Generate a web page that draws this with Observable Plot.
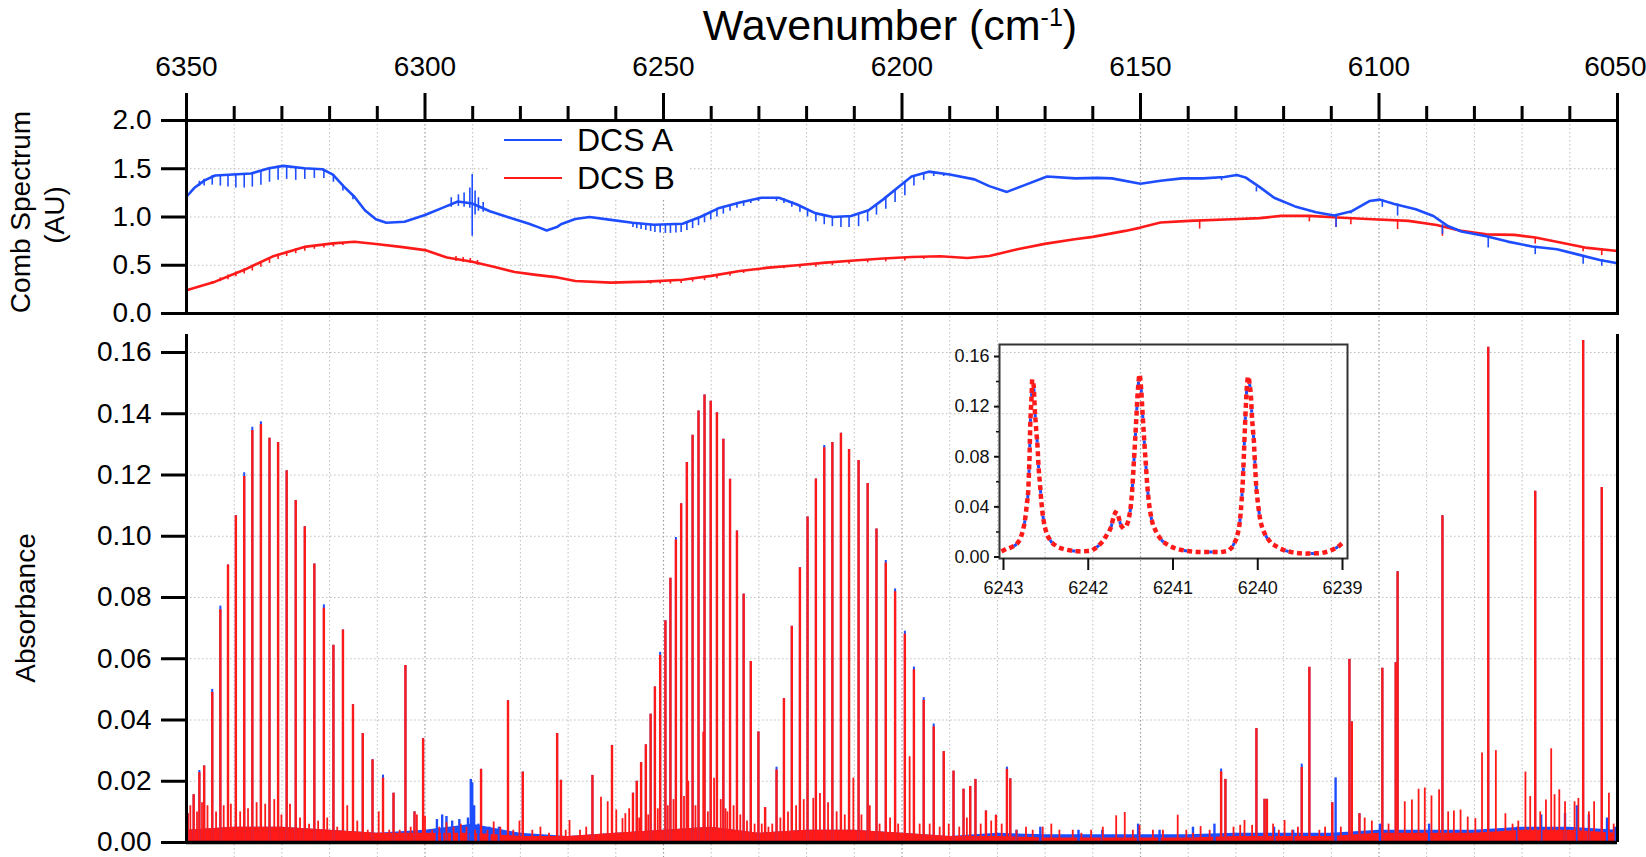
<!DOCTYPE html>
<html><head><meta charset="utf-8"><title>DCS spectra</title>
<script src="https://cdn.jsdelivr.net/npm/d3@7"></script>
<script src="https://cdn.jsdelivr.net/npm/@observablehq/plot@0.6"></script>
<style>
html,body{margin:0;padding:0;background:#fff;}
#wrap{position:relative;width:1646px;height:857px;overflow:hidden;font-family:"Liberation Sans",Arial,Helvetica,sans-serif;color:#000;}
#wrap svg{position:absolute;}
.t{position:absolute;white-space:nowrap;line-height:1;}
</style></head><body><div id="wrap"></div><script>
// ---------- ticks / labels ----------
const majorTicks = [6350,6300,6250,6200,6150,6100,6050];
const minorTicks = [6340,6330,6320,6310,6290,6280,6270,6260,6240,6230,6220,6210,6190,6180,6170,6160,6140,6130,6120,6110,6090,6080,6070,6060];
const combTicks = [0,0.5,1.0,1.5,2.0];
const absTicks = [0,0.02,0.04,0.06,0.08,0.10,0.12,0.14,0.16];
const insetXTicks = [6243,6242,6241,6240,6239];
const insetYTicks = [0,0.04,0.08,0.12,0.16];
const insetYMinor = [0.02,0.06,0.10,0.14];
const seriesNames = ["DCS A","DCS B"];

// ---------- comb spectra [wavenumber, AU] ----------
const combA = [[6350,1.21],[6348.4,1.30],[6346.2,1.38],[6344,1.43],[6340.2,1.44],[6336.5,1.45],[6332.7,1.505],[6329.7,1.53],[6325.3,1.505],[6321.5,1.495],[6319.3,1.44],[6317,1.315],[6314.8,1.21],[6312.6,1.07],[6310.3,0.976],[6308.1,0.94],[6304.3,0.95],[6300,1.02],[6296.1,1.10],[6293.1,1.16],[6290.1,1.14],[6286.4,1.06],[6282.7,1.00],[6278.2,0.93],[6276,0.89],[6274.5,0.86],[6272.2,0.90],[6271.5,0.925],[6268.5,0.98],[6265.5,1.00],[6261,0.97],[6256.5,0.94],[6252,0.92],[6246,0.93],[6242.3,1.00],[6238.5,1.09],[6234,1.15],[6229.5,1.20],[6225.8,1.20],[6222,1.13],[6218.2,1.04],[6214.5,1.00],[6210.7,1.01],[6207,1.07],[6204,1.18],[6201,1.30],[6198,1.42],[6194.4,1.47],[6190,1.44],[6184.8,1.39],[6181.7,1.32],[6178,1.26],[6174.3,1.33],[6169.6,1.42],[6163.6,1.40],[6159,1.405],[6156,1.40],[6150,1.345],[6145.8,1.375],[6141.3,1.40],[6136.9,1.40],[6132.4,1.415],[6129.8,1.435],[6128,1.41],[6125,1.31],[6122,1.20],[6117.6,1.11],[6113.2,1.05],[6109.4,1.015],[6105.7,1.06],[6102,1.165],[6099.8,1.18],[6096.8,1.135],[6092.3,1.08],[6088.6,1.01],[6085.7,0.91],[6082.7,0.85],[6077.5,0.80],[6073,0.745],[6067.9,0.695],[6062.7,0.665],[6058.2,0.61],[6053.7,0.555],[6050,0.52]];
const combB = [[6350,0.242],[6344,0.33],[6338,0.45],[6332,0.59],[6325.3,0.69],[6319.3,0.727],[6314.8,0.744],[6310.3,0.72],[6305.1,0.69],[6300,0.657],[6295.4,0.58],[6290.1,0.536],[6285.6,0.484],[6281.2,0.43],[6276.7,0.40],[6272.2,0.374],[6268.5,0.336],[6261,0.32],[6253.5,0.33],[6246,0.35],[6240,0.39],[6234,0.44],[6228,0.475],[6222,0.50],[6216,0.527],[6210,0.55],[6204,0.57],[6198,0.586],[6192,0.593],[6186.3,0.575],[6181.7,0.596],[6175.8,0.665],[6169.8,0.724],[6163.8,0.77],[6160,0.794],[6153.2,0.856],[6150,0.89],[6145.8,0.943],[6139.8,0.96],[6130.9,0.977],[6125,0.988],[6120.5,1.012],[6114.6,1.012],[6108.7,0.995],[6101.3,0.977],[6093.8,0.96],[6087.9,0.918],[6082.7,0.856],[6077.5,0.82],[6071.6,0.815],[6067.2,0.787],[6062,0.735],[6056.8,0.683],[6050,0.648]];
// comb absorption dips [wavenumber, top, bottom]
const dipsA = [[6347.3,1.37,1.32],[6346.3,1.39,1.32],[6344.6,1.43,1.33],[6342.9,1.435,1.32],[6341.3,1.44,1.31],[6339.65,1.44,1.30],[6337.9,1.445,1.30],[6336.2,1.45,1.31],[6334.4,1.47,1.33],[6332.6,1.50,1.36],[6330.8,1.525,1.38],[6329.0,1.53,1.39],[6327.1,1.51,1.38],[6325.2,1.505,1.39],[6323.2,1.50,1.40],[6321.2,1.495,1.40],[6319.2,1.44,1.36],[6317.2,1.33,1.27],[6315.1,1.22,1.18],
[6256.4,0.94,0.89],[6255.6,0.935,0.88],[6254.7,0.93,0.87],[6253.7,0.925,0.86],[6252.7,0.92,0.85],[6251.8,0.92,0.84],[6250.7,0.915,0.835],[6249.6,0.915,0.83],[6248.55,0.92,0.83],[6247.4,0.925,0.835],[6246.3,0.93,0.84],[6245.1,0.95,0.86],[6243.9,0.97,0.88],[6242.66,1.00,0.91],[6241.4,1.03,0.94],[6240.1,1.06,0.97],[6238.8,1.09,1.00],[6237.45,1.11,1.03],[6236.05,1.13,1.06],[6234.6,1.15,1.09],[6233.2,1.165,1.11],[6231.7,1.18,1.14],[6230.1,1.19,1.16],
[6226.3,1.20,1.16],[6224.75,1.19,1.14],[6223.1,1.16,1.10],[6221.4,1.12,1.05],[6219.8,1.08,1.00],[6218.05,1.04,0.95],[6216.3,1.02,0.92],[6214.6,1.00,0.90],[6212.8,1.00,0.89],[6211.1,1.005,0.89],[6209.1,1.02,0.90],[6207.2,1.07,0.95],[6205.35,1.13,1.02],[6203.4,1.20,1.08],[6201.45,1.28,1.15],[6199.4,1.36,1.22],[6197.5,1.43,1.32],[6195.45,1.46,1.38],[6193.35,1.47,1.42],[6191.25,1.45,1.42],
[6133.0,1.415,1.375],[6125.7,1.31,1.26],[6109.0,1.015,0.89],[6105.9,1.06,1.03],[6099.3,1.18,1.10],[6096.1,1.135,1.01],[6086.7,0.92,0.82],[6077.1,0.80,0.68],[6067.25,0.695,0.61],[6057.2,0.60,0.51],[6053.3,0.56,0.49]];
const noiseA = [[6294.5,1.10,1.20],[6293,1.11,1.23],[6291.8,1.10,1.25],[6290.6,1.09,1.30],[6290.1,0.80,1.44],[6289.5,1.02,1.27],[6288.8,1.06,1.20],[6287.8,1.05,1.15]];
const dipsB = [[6344.6,0.33,0.30],[6342.9,0.37,0.33],[6341.3,0.40,0.35],[6339.65,0.43,0.38],[6337.9,0.465,0.41],[6336.2,0.50,0.44],[6334.4,0.54,0.48],[6332.6,0.58,0.52],[6330.8,0.615,0.56],[6329.0,0.645,0.59],[6327.1,0.67,0.62],[6325.2,0.69,0.645],[6323.2,0.705,0.665],[6321.2,0.715,0.68],[6319.2,0.725,0.69],[6317.2,0.735,0.705],
[6254.7,0.33,0.31],[6252.7,0.33,0.305],[6250.7,0.335,0.305],[6248.55,0.34,0.305],[6246.3,0.35,0.31],[6243.9,0.365,0.325],[6241.4,0.38,0.34],[6238.8,0.40,0.36],[6236.05,0.42,0.385],[6233.2,0.445,0.415],[6230.1,0.46,0.44],
[6224.75,0.49,0.465],[6221.4,0.50,0.47],[6218.05,0.515,0.48],[6214.6,0.53,0.495],[6211.1,0.545,0.51],[6207.2,0.56,0.525],[6203.4,0.57,0.535],[6199.4,0.58,0.545],[6195.45,0.59,0.56],
[6137.6,0.965,0.875],[6114.6,1.012,0.95],[6109.0,0.995,0.89],[6105.9,0.99,0.92],[6096.1,0.965,0.87],[6086.7,0.91,0.80],[6067.25,0.787,0.72],[6057.2,0.69,0.64],[6053.3,0.665,0.60]];
const noiseB = [[6293.5,0.54,0.59],[6292,0.53,0.58],[6290.5,0.52,0.57],[6289,0.50,0.55]];

// ---------- absorbance lines [wavenumber, DCS B peak, DCS A peak] ----------
const absLines = [
[6349.75,0.0094,0.0094],[6348.5,0.0156,0.0156],[6347.3,0.0228,0.0235],[6346.3,0.025,0.025],[6344.6,0.049,0.050],[6342.9,0.076,0.0772],[6341.3,0.0906,0.0906],[6339.65,0.1067,0.1067],[6337.9,0.1195,0.1207],[6336.2,0.1345,0.1356],[6334.4,0.1365,0.1374],[6332.6,0.132,0.132],[6330.8,0.1306,0.1306],[6329.0,0.1214,0.1214],[6327.1,0.1117,0.1117],[6325.2,0.1031,0.1031],[6323.2,0.0909,0.0909],[6321.2,0.0765,0.0776],[6319.2,0.0644,0.0644],[6317.2,0.0694,0.0694],[6315.1,0.045,0.045],[6313.05,0.0356,0.0356],[6311.0,0.027,0.027],[6308.8,0.021,0.022],[6306.6,0.0161,0.0161],[6304.1,0.0578,0.0578],[6302.2,0.010,0.010],[6300.4,0.0339,0.0339],
[6288.25,0.0239,0.0239],[6282.6,0.0463,0.0463],[6279.5,0.023,0.023],[6272.3,0.0356,0.0356],[6271.5,0.0203,0.0203],[6264.9,0.0219,0.0219],[6260.8,0.0317,0.0317],
[6256.4,0.0161,0.0161],[6255.6,0.020,0.020],[6254.7,0.0261,0.0261],[6253.7,0.0319,0.0319],[6252.7,0.0419,0.0419],[6251.8,0.0508,0.0508],[6250.7,0.0611,0.0621],[6249.6,0.0724,0.0724],[6248.55,0.0863,0.0863],[6247.4,0.0988,0.0996],[6246.3,0.1106,0.1106],[6245.1,0.1241,0.1241],[6243.9,0.133,0.133],[6242.66,0.1409,0.1409],[6241.4,0.1461,0.1461],[6240.1,0.1441,0.1441],[6238.8,0.1403,0.1403],[6237.45,0.1317,0.1317],[6236.05,0.1186,0.1186],[6234.6,0.1017,0.1017],[6233.2,0.0811,0.0811],[6231.7,0.0591,0.0591],[6230.1,0.0361,0.0361],[6228.7,0.0114,0.0114],
[6226.3,0.0237,0.0246],[6224.75,0.047,0.047],[6223.1,0.0706,0.0706],[6221.4,0.0897,0.0897],[6219.8,0.1063,0.1063],[6218.05,0.1187,0.1187],[6216.3,0.1289,0.1296],[6214.6,0.1306,0.1306],[6212.8,0.1336,0.1336],[6211.1,0.1283,0.1283],[6209.1,0.1247,0.1247],[6207.2,0.1172,0.1172],[6205.35,0.1024,0.1024],[6203.4,0.0913,0.0921],[6201.45,0.0819,0.0828],[6199.4,0.068,0.069],[6197.5,0.0564,0.0573],[6195.45,0.0464,0.0473],[6193.35,0.0378,0.0387],[6191.25,0.0297,0.0297],[6189.2,0.0233,0.0233],[6187.1,0.0174,0.0174],[6185.7,0.0183,0.0183],[6184.6,0.0206,0.0206],[6182.4,0.0103,0.0103],[6180.3,0.0089,0.0089],[6178.0,0.0239,0.0246],[6177.3,0.0208,0.0208],
[6133.1,0.0231,0.024],[6132.2,0.0206,0.0206],[6125.7,0.0372,0.0372],[6124.0,0.0141,0.0141],[6123.5,0.0141,0.0141],[6116.2,0.0245,0.0256],[6114.6,0.0572,0.0572],[6109.8,0.013,0.013],[6106.2,0.0598,0.0598],[6105.7,0.0394,0.0394],[6104.1,0.0094,0.0094],[6099.3,0.0569,0.0569],[6096.5,0.0587,0.0587],[6096.1,0.0884,0.0884],[6086.7,0.1067,0.1067],[6077.1,0.1617,0.1617],[6067.25,0.1147,0.1147],[6057.2,0.1639,0.1639],[6053.3,0.1159,0.1159]];
// weak lines seen in DCS B [wavenumber, peak]
const weakLines = [[6349.2,0.012],[6347.8,0.010],[6346.75,0.013],[6345.6,0.012],[6343.8,0.010],[6342.2,0.012],[6340.7,0.0125],[6338.75,0.010],[6337.1,0.011],[6335.3,0.013],[6333.5,0.0125],[6331.6,0.014],[6330.1,0.009],[6328.3,0.0125],[6326.2,0.008],[6324.3,0.006],[6322.4,0.007],[6320.5,0.008],[6318.4,0.005],[6316.3,0.012],[6314.2,0.007],[6312.0,0.004],[6309.7,0.010],[6307.5,0.004],[6305.3,0.004],[6303.0,0.005],[6301.7,0.009],[6300.0,0.0086],[6298.5,0.004],[6297,0.005],[6295.5,0.0065],[6294,0.005],[6292.5,0.006],[6291.3,0.005],[6289.5,0.004],
[6286.9,0.004],[6285.6,0.0067],[6284.2,0.005],[6281.5,0.004],[6280.2,0.007],[6277.5,0.004],[6275.8,0.005],[6274.0,0.003],[6270.5,0.004],[6269.7,0.0072],[6267.5,0.004],[6266.2,0.005],[6263.1,0.0148],[6261.7,0.0133],[6259.9,0.0106],[6258.6,0.0078],[6258.0,0.0094],[6257.2,0.011],[6255.1,0.008],[6253.2,0.009],[6251.2,0.011],[6249.1,0.012],[6247.9,0.014],[6245.7,0.015],[6244.8,0.020],[6243.3,0.012],[6241.67,0.036],[6240.7,0.010],[6239.4,0.021],[6238.0,0.014],[6237.0,0.011],[6236.6,0.010],[6235.3,0.012],[6233.9,0.009],[6232.5,0.007],[6230.9,0.006],[6229.4,0.006],[6228.0,0.005],[6227.2,0.006],
[6225.5,0.008],[6223.9,0.010],[6222.2,0.012],[6220.6,0.014],[6218.6,0.0144],[6217.2,0.016],[6215.5,0.013],[6213.7,0.010],[6212.0,0.009],[6210.2,0.021],[6208.5,0.009],[6206.75,0.012],[6204.7,0.006],[6202.5,0.008],[6200.8,0.006],[6198.4,0.028],[6196.3,0.006],[6194.2,0.006],[6192.1,0.005],[6190.2,0.006],[6188.0,0.005],[6186.4,0.008],[6183.5,0.006],[6181.3,0.007],[6179.1,0.006],
[6176.0,0.004],[6174.0,0.005],[6172.6,0.004],[6170.5,0.005],[6168.7,0.006],[6167.0,0.004],[6164.2,0.004],[6162.4,0.003],[6160.35,0.004],[6157.9,0.005],[6155.1,0.0087],[6153.3,0.0098],[6151.6,0.004],[6150.2,0.0056],[6147.4,0.004],[6145.3,0.004],[6142.2,0.0089],[6140.4,0.004],[6139.0,0.003],[6137.4,0.0052],[6135.5,0.004],[6130.5,0.005],[6129.1,0.0056],[6128.2,0.0072],[6126.6,0.0056],[6122.2,0.006],[6121.0,0.004],
[6119.8,0.0072],[6118.2,0.004],[6117.0,0.005],[6112.5,0.004],[6111.3,0.005],[6108.0,0.005],[6103.0,0.008],[6101.5,0.007],[6098.0,0.006],[6094.6,0.0133],[6093.1,0.0139],[6091.7,0.0174],[6090.4,0.0178],[6089.0,0.0152],[6087.4,0.0172],[6085.5,0.010],[6084.3,0.0103],[6082.9,0.0106],[6081.4,0.0083],[6079.8,0.0078],[6078.4,0.0292],[6075.5,0.030],[6073.5,0.0094],[6072.0,0.006],[6070.8,0.007],[6069.3,0.023],[6068.3,0.015],[6066.2,0.010],[6065.0,0.0139],[6063.9,0.0306],[6063.2,0.0156],[6062.2,0.0172],[6061.0,0.0133],[6059.0,0.0133],[6058.2,0.0144],[6056.0,0.010],[6054.9,0.0133],[6051.8,0.0161],[6050.8,0.006]];
// features seen only in DCS A [wavenumber, peak]
const blueOnly = [[6297.5,0.0075],[6296.4,0.009],[6295.5,0.0085],[6294.3,0.007],[6292.8,0.0075],[6291,0.008],[6290.4,0.0206],[6290.1,0.0195],[6289.7,0.012],[6288.8,0.006],[6286.5,0.005],[6284.5,0.005],[6176,0.004],[6171,0.005],[6163,0.004],[6158,0.004],[6150.5,0.006],[6146,0.004],[6139,0.005],[6134.5,0.006],[6122,0.005],[6118,0.004],[6109.1,0.0211],[6099.8,0.006],[6089.5,0.006],[6071,0.005],[6066,0.009],[6061,0.0095],[6058.5,0.012],[6056,0.009],[6052.2,0.008],[6050.5,0.005]];
// noise floor [wavenumber, level]
const floorB = [[6350,0.004],[6340,0.005],[6330,0.005],[6320,0.004],[6310,0.003],[6300,0.003],[6290,0.003],[6280,0.002],[6270,0.002],[6260,0.003],[6250,0.004],[6240,0.005],[6230,0.003],[6220,0.004],[6210,0.004],[6200,0.003],[6190,0.002],[6180,0.002],[6170,0.0015],[6160,0.0015],[6150,0.0015],[6140,0.0015],[6130,0.002],[6120,0.002],[6110,0.002],[6100,0.003],[6090,0.003],[6080,0.003],[6070,0.004],[6060,0.004],[6050,0.003]];
const floorA = [[6350,0.004],[6340,0.005],[6330,0.005],[6320,0.004],[6310,0.003],[6300,0.004],[6290,0.006],[6280,0.003],[6270,0.002],[6260,0.003],[6250,0.004],[6240,0.005],[6230,0.003],[6220,0.004],[6210,0.004],[6200,0.003],[6190,0.002],[6180,0.003],[6170,0.0025],[6160,0.0025],[6150,0.0025],[6140,0.0025],[6130,0.003],[6120,0.003],[6110,0.003],[6100,0.004],[6090,0.004],[6080,0.004],[6070,0.005],[6060,0.005],[6050,0.004]];

// ---------- inset: DCS B (and coinciding DCS A) [wavenumber, absorbance] ----------
const insetB = [[6243.000,0.0053],[6242.961,0.0066],[6242.901,0.0080],[6242.842,0.0106],[6242.803,0.0146],[6242.771,0.0213],[6242.744,0.0306],[6242.724,0.0425],[6242.708,0.0530],[6242.700,0.0664],[6242.693,0.0797],[6242.685,0.1037],[6242.677,0.1170],[6242.669,0.1276],[6242.661,0.1414],[6242.645,0.1370],[6242.637,0.1276],[6242.630,0.1170],[6242.622,0.1090],[6242.610,0.0980],[6242.598,0.0877],[6242.586,0.0718],[6242.570,0.0585],[6242.551,0.0425],[6242.527,0.0292],[6242.496,0.0200],[6242.448,0.0133],[6242.369,0.0085],[6242.251,0.0058],[6242.094,0.0045],[6241.975,0.0050],[6241.897,0.0080],[6241.837,0.0120],[6241.778,0.0180],[6241.731,0.0240],[6241.700,0.0319],[6241.672,0.0359],[6241.648,0.0332],[6241.621,0.0266],[6241.589,0.0234],[6241.550,0.0252],[6241.518,0.0319],[6241.495,0.0425],[6241.479,0.0558],[6241.463,0.0744],[6241.447,0.0930],[6241.432,0.1116],[6241.420,0.1276],[6241.408,0.1382],[6241.396,0.1456],[6241.384,0.1409],[6241.372,0.1302],[6241.361,0.1170],[6241.349,0.1037],[6241.337,0.0904],[6241.321,0.0744],[6241.305,0.0585],[6241.282,0.0425],[6241.254,0.0306],[6241.207,0.0213],[6241.148,0.0146],[6241.049,0.0093],[6240.911,0.0058],[6240.675,0.0040],[6240.438,0.0040],[6240.320,0.0066],[6240.281,0.0106],[6240.241,0.0173],[6240.210,0.0292],[6240.190,0.0452],[6240.174,0.0638],[6240.163,0.0824],[6240.151,0.1037],[6240.139,0.1223],[6240.127,0.1370],[6240.111,0.1440],[6240.096,0.1382],[6240.080,0.1276],[6240.068,0.1116],[6240.056,0.1010],[6240.044,0.0904],[6240.033,0.0744],[6240.017,0.0558],[6239.997,0.0425],[6239.973,0.0306],[6239.934,0.0213],[6239.867,0.0133],[6239.768,0.0080],[6239.611,0.0040],[6239.414,0.0027],[6239.256,0.0032],[6239.138,0.0053],[6239.059,0.0080],[6239.000,0.0112]];
const insetA = insetB; // the two inset series coincide at this scale

// ---------- drawing ----------
const wrap = document.getElementById("wrap");
function put(node, left, top){ node.style.left = left + "px"; node.style.top = top + "px"; wrap.appendChild(node); return node; }
const FONT = '"Liberation Sans", Arial, Helvetica, sans-serif';
const BLUE = "#1d4dff", RED = "#ff1a1a", GRIDC = "#bdbdbd", GRIDM = "#9a9a9a";
const DOTS = "1.5 2.5";
const X = {domain:[6350,6050], axis:null};
const common = {width:1646, marginLeft:186, marginRight:29};
const fx = d => d[0], fy = d => d[1], f2 = d => d[2];

const gridLayer = Plot.plot({...common, height:737, marginTop:0, marginBottom:0, x:X,
  style:{background:"transparent"},
  marks:[
    Plot.ruleX(minorTicks, {stroke:GRIDC, strokeWidth:1, strokeDasharray:DOTS}),
    Plot.ruleX(majorTicks.slice(1,-1), {stroke:GRIDM, strokeWidth:1.2, strokeDasharray:DOTS})
  ]});
put(gridLayer, 0, 120);

const topPlot = Plot.plot({...common, height:330, marginTop:120, marginBottom:17,
  x:X, y:{domain:[0,2], axis:null},
  style:{background:"transparent", overflow:"visible", fontFamily:FONT, fontSize:"28px", color:"#000"},
  marks:[
    Plot.ruleY(combTicks.slice(1), {stroke:GRIDC, strokeDasharray:DOTS}),
    Plot.line(combB, {x:fx, y:fy, stroke:RED, strokeWidth:2.6}),
    Plot.ruleX(dipsB, {x:fx, y1:fy, y2:f2, stroke:RED, strokeWidth:1.6}),
    Plot.ruleX(noiseB, {x:fx, y1:fy, y2:f2, stroke:RED, strokeWidth:1.6}),
    Plot.line(combA, {x:fx, y:fy, stroke:BLUE, strokeWidth:2.6}),
    Plot.ruleX(dipsA, {x:fx, y1:fy, y2:f2, stroke:BLUE, strokeWidth:1.6}),
    Plot.ruleX(noiseA, {x:fx, y1:fy, y2:f2, stroke:BLUE, strokeWidth:1.6}),
    Plot.frame({stroke:"#000", strokeWidth:3}),
    Plot.axisX(majorTicks.slice(0, -1), {anchor:"top", tickSize:28, tickPadding:17, strokeWidth:3, tickFormat:d => String(d), label:null}),
    Plot.axisX(majorTicks.slice(-1), {anchor:"top", tickSize:28, tickPadding:17, strokeWidth:3, tickFormat:() => "", label:null}),
    Plot.text(majorTicks.slice(-1), {x:d => d, frameAnchor:"top", text:d => String(d), textAnchor:"end", lineAnchor:"bottom", dx:29, dy:-45, fill:"#000"}),
    Plot.axisX(minorTicks, {anchor:"top", tickSize:15, strokeWidth:3, tickFormat:() => "", label:null}),
    Plot.axisY(combTicks, {anchor:"left", tickSize:25, tickPadding:10, strokeWidth:3, tickFormat:d => d.toFixed(1), label:null})
  ]});
put(topPlot, 0, 0);

const botPlot = Plot.plot({...common, height:537, marginTop:14, marginBottom:15,
  x:X, y:{domain:[0,0.16], axis:null, insetTop:18},
  style:{background:"transparent", overflow:"visible", fontFamily:FONT, fontSize:"28px", color:"#000"},
  marks:[
    Plot.ruleY(absTicks.slice(1), {stroke:GRIDC, strokeDasharray:DOTS}),
    Plot.areaY(floorA, {x:fx, y:fy, fill:BLUE}),
    Plot.areaY(floorB, {x:fx, y:fy, fill:RED}),
    Plot.ruleX(blueOnly, {x:fx, y1:0, y2:fy, stroke:BLUE, strokeWidth:2.4}),
    Plot.ruleX(absLines, {x:fx, y1:0, y2:f2, stroke:BLUE, strokeWidth:2.0}),
    Plot.ruleX(weakLines, {x:fx, y1:0, y2:fy, stroke:RED, strokeWidth:1.8}),
    Plot.ruleX(absLines, {x:fx, y1:0, y2:fy, stroke:RED, strokeWidth:2.4}),
    Plot.ruleX([6350,6050], {stroke:"#000", strokeWidth:3}),
    Plot.ruleY([0], {stroke:"#000", strokeWidth:3.5}),
    Plot.axisY(absTicks, {anchor:"left", tickSize:25, tickPadding:10, strokeWidth:3, tickFormat:d => d.toFixed(2), label:null})
  ]});
put(botPlot, 0, 320);

const insetPlot = Plot.plot({width:430, height:280, marginTop:14, marginBottom:52, marginLeft:59, marginRight:23,
  x:{domain:[6243,6239], axis:null, insetLeft:4, insetRight:5},
  y:{domain:[0,0.16], axis:null, insetTop:12, insetBottom:1.5},
  style:{background:"transparent", overflow:"visible", fontFamily:FONT, fontSize:"18px", color:"#111"},
  marks:[
    Plot.line(insetA, {x:fx, y:fy, stroke:BLUE, strokeWidth:3, strokeLinecap:"square", strokeDasharray:"0.5 25", strokeDashoffset:12.75, curve:"monotone-x"}),
    Plot.line(insetB, {x:fx, y:fy, stroke:RED, strokeWidth:4.5, strokeLinecap:"square", strokeDasharray:"0.5 8", curve:"monotone-x"}),
    Plot.frame({stroke:"#333", strokeWidth:2}),
    Plot.axisX(insetXTicks, {anchor:"bottom", tickSize:12, tickPadding:11, strokeWidth:2, tickFormat:d => String(d), label:null}),
    Plot.axisY(insetYTicks, {anchor:"left", tickSize:5, tickPadding:5, strokeWidth:2, tickFormat:d => d.toFixed(2), label:null}),
    Plot.axisY(insetYMinor, {anchor:"left", tickSize:3, strokeWidth:1.5, tickFormat:() => "", label:null})
  ]});
put(insetPlot, 940, 330);

// title
const title = document.createElement("div");
title.className = "t";
title.style.fontSize = "43px";
title.style.transform = "translateX(-50%)";
title.innerHTML = 'Wavenumber (cm<span style="font-size:25px;vertical-align:14px;line-height:1">-1</span>)';
put(title, 890, 4);

// axis titles
function vlabel(text, cx, cy, size){
  const d = document.createElement("div");
  d.className = "t"; d.textContent = text; d.style.fontSize = size + "px";
  d.style.transform = "translate(-50%,-50%) rotate(-90deg)";
  put(d, cx, cy);
}
vlabel("Comb Spectrum", 21, 212, 28);
vlabel("(AU)", 55, 215, 28);
vlabel("Absorbance", 26, 608, 28);

// legend
const box = document.createElement("div");
box.style.cssText = "position:absolute;width:200px;height:76px;background:#fff;";
put(box, 490, 122);
[[seriesNames[0], BLUE, 140], [seriesNames[1], RED, 178]].forEach(([name, color, cy]) => {
  const ln = document.createElement("div");
  ln.style.cssText = "position:absolute;width:58px;height:2px;background:" + color + ";";
  put(ln, 504, cy - 1);
  const tx = document.createElement("div");
  tx.className = "t"; tx.style.fontSize = "32px"; tx.textContent = name;
  put(tx, 577, cy - 16);
});
</script></body></html>
